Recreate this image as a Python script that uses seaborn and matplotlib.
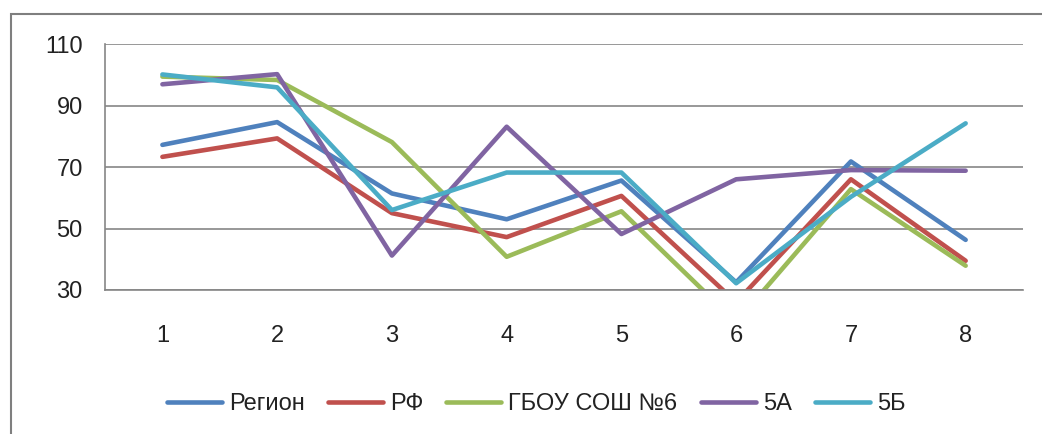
import pandas as pd
import seaborn as sns
import matplotlib.pyplot as plt
from matplotlib.patches import Rectangle

# data
tasks = [1, 2, 3, 4, 5, 6, 7, 8]
region = [77.2, 84.6, 61.4, 53.0, 65.6, 32.5, 71.8, 46.3]
rf = [73.3, 79.3, 55.0, 47.2, 60.6, 26.0, 66.0, 39.5]
school = [99.4, 98.3, 78.1, 40.8, 55.6, 19.5, 62.8, 37.9]
class_5a = [96.9, 100.2, 41.2, 83.1, 48.2, 66.0, 69.0, 68.8]
class_5b = [100.1, 95.9, 56.0, 68.2, 68.2, 32.2, 60.3, 84.2]

series_names = ["Регион", "РФ", "ГБОУ СОШ №6", "5А", "5Б"]
colors = ["#4F81BD", "#C0504D", "#9BBB59", "#8064A2", "#4BACC6"]

# long form table for seaborn
frames = []
for name, vals in zip(series_names, [region, rf, school, class_5a, class_5b]):
    frames.append(pd.DataFrame({"task": tasks, "value": vals, "series": name}))
df = pd.concat(frames, ignore_index=True)

sns.set_style("white")
plt.rcParams["font.family"] = ["Liberation Sans", "DejaVu Sans"]

fig = plt.figure(figsize=(10.42, 4.34), dpi=100)
ax = fig.add_axes([0.1008, 0.3318, 0.881, 0.5668])

sns.lineplot(data=df, x="task", y="value", hue="series", palette=colors,
             hue_order=series_names, linewidth=3.3, ax=ax, legend=True)

ax.set_xlim(0.5, 8.5)
ax.set_ylim(30, 110)
ax.set_yticks([30, 50, 70, 90, 110])
ax.set_xticks(tasks)
ax.set_xticks([t + 0.5 for t in [0] + tasks], minor=True)
ax.tick_params(axis="x", which="major", length=0, pad=25, labelsize=17, labelcolor="#222222")
ax.tick_params(axis="x", which="minor", length=6, width=1.2, color="#868686", direction="out")
ax.tick_params(axis="y", length=6, width=1.2, color="#868686", direction="out", pad=10,
               labelsize=17, labelcolor="#222222")
ax.grid(axis="y", color="#868686", linewidth=1.2)
ax.set_axisbelow(True)
ax.set_xlabel("")
ax.set_ylabel("")
for side in ["top", "right"]:
    ax.spines[side].set_visible(False)
for side in ["left", "bottom"]:
    ax.spines[side].set_color("#868686")
    ax.spines[side].set_linewidth(1.2)
ax.spines["bottom"].set_zorder(3)

leg = ax.legend(loc="center", bbox_to_anchor=(0.4695, -0.463), ncol=5, frameon=False,
                fontsize=17, handlelength=2.33, handletextpad=0.3, columnspacing=0.98)
for t in leg.get_texts():
    t.set_color("#222222")

# outer chart frame (cut off at right and bottom)
fig.patches.append(Rectangle((11 / 1042, -0.1), 2, (434 - 14) / 434 + 0.1,
                             transform=fig.transFigure, fill=False,
                             edgecolor="#7f7f7f", linewidth=1.5))

fig.savefig("out.png", dpi=100)
